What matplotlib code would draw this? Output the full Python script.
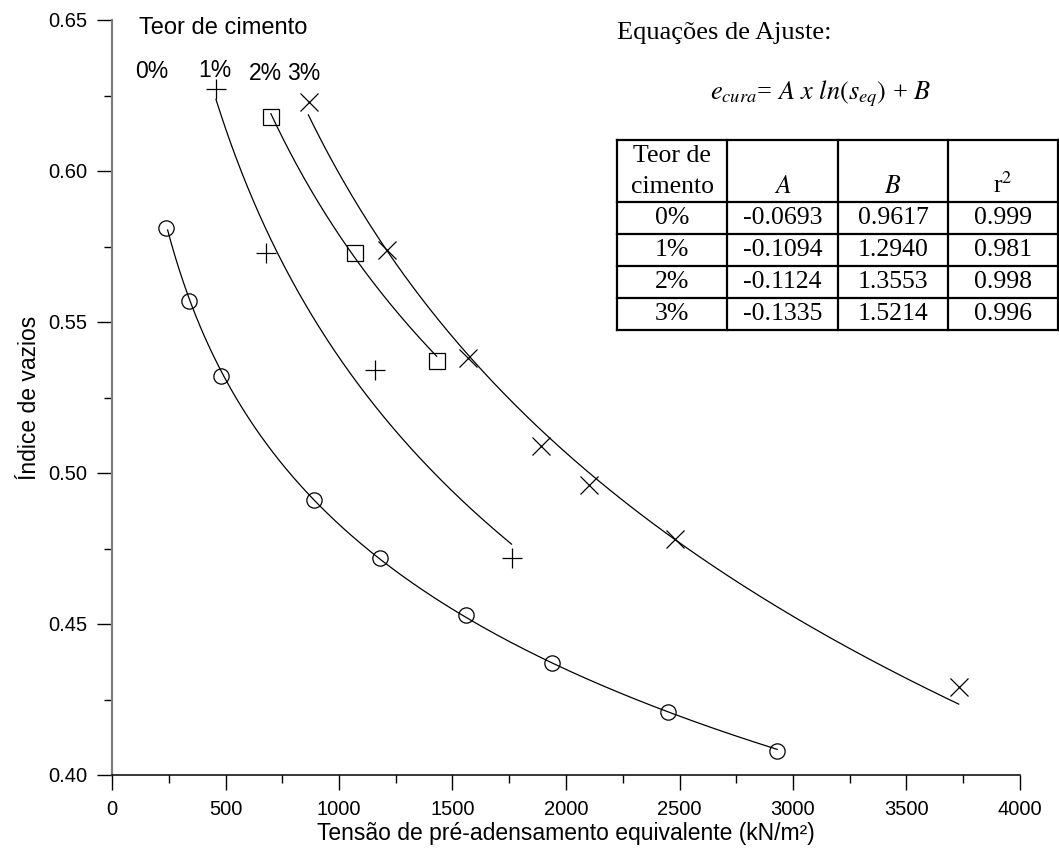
import numpy as np
import matplotlib
matplotlib.use("Agg")
import matplotlib.pyplot as plt
from matplotlib.ticker import MultipleLocator

plt.rcParams['font.family'] = ['Liberation Sans', 'DejaVu Sans']
plt.rcParams['mathtext.fontset'] = 'stix'

# pontos experimentais (tensão equivalente kN/m², índice de vazios)
s_0 = [240, 340, 480, 890, 1180, 1560, 1940, 2450, 2930]
e_0 = [0.581, 0.557, 0.532, 0.491, 0.472, 0.453, 0.437, 0.421, 0.408]
s_1 = [460, 680, 1160, 1760]
e_1 = [0.627, 0.573, 0.534, 0.472]
s_2 = [700, 1070, 1430]
e_2 = [0.618, 0.573, 0.537]
s_3 = [870, 1210, 1570, 1890, 2100, 2480, 3730]
e_3 = [0.623, 0.574, 0.538, 0.509, 0.496, 0.478, 0.429]

# coeficientes de ajuste e = A ln(s) + B
teor = ['0%', '1%', '2%', '3%']
coef_A = [-0.0693, -0.1094, -0.1124, -0.1335]
coef_B = [0.9617, 1.2940, 1.3553, 1.5214]
coef_r2 = [0.999, 0.981, 0.998, 0.996]
# trecho desenhado de cada curva
s_ini = [245, 458, 700, 865]
s_fim = [2930, 1760, 1430, 3730]

fig = plt.figure(figsize=(10.59, 8.5), dpi=100)
ax = fig.add_axes([112/1059, 1 - 775/850, 908/1059, 755/850])

series = [(s_0, e_0, 'o', 11), (s_1, e_1, '+', 15), (s_2, e_2, 's', 11), (s_3, e_3, 'x', 13)]
for i, (s, e, mk, ms) in enumerate(series):
    xs = np.linspace(s_ini[i], s_fim[i], 300)
    ax.plot(xs, coef_A[i] * np.log(xs) + coef_B[i], color='black', lw=0.9)
    ax.plot(s, e, linestyle='none', marker=mk, ms=ms, mfc='none', mec='black', mew=0.9)

ax.set_xlim(0, 4000)
ax.set_ylim(0.40, 0.65)
ax.xaxis.set_major_locator(MultipleLocator(500))
ax.xaxis.set_minor_locator(MultipleLocator(250))
ax.yaxis.set_major_locator(MultipleLocator(0.05))
ax.yaxis.set_minor_locator(MultipleLocator(0.025))
ax.yaxis.set_major_formatter(plt.FormatStrFormatter('%.2f'))
ax.tick_params(which='major', direction='out', length=11, width=1, labelsize=14.5, pad=7)
ax.tick_params(which='minor', direction='out', length=6, width=1)
ax.spines['top'].set_visible(False)
ax.spines['right'].set_visible(False)
ax.spines['left'].set_color('#7f7f7f')
ax.spines['left'].set_linewidth(1.6)
ax.spines['bottom'].set_linewidth(1.1)

ax.set_xlabel('Tensão de pré-adensamento equivalente (kN/m²)', fontsize=16.5, labelpad=2)
ax.set_ylabel('Índice de vazios', fontsize=16.5, labelpad=5)

# rótulos das curvas
ax.text(120, 0.6473, 'Teor de cimento', fontsize=17, va='center', ha='left')
for lab, lx, ly in zip(teor, [175, 453, 674, 844], [0.6331, 0.6333, 0.6323, 0.6323]):
    ax.text(lx, ly, lab, fontsize=16.5, va='center', ha='center')

# equação e tabela de ajuste
serif = ['Liberation Serif', 'DejaVu Serif']
fig.text(617/1059, 1 - 33/850, 'Equações de Ajuste:', family=serif, fontsize=19, va='center', ha='left')
fig.text(821/1059, 1 - 94/850, r'$e_{cura}$= $A\ x\ ln(s_{eq})$ + $B$', family=serif,
         fontsize=19, va='center', ha='center')

tax = fig.add_axes([617/1059, 1 - 330/850, 441/1059, 190/850])
tax.set_xlim(0, 441)
tax.set_ylim(190, 0)
tax.axis('off')
col_x = [0, 110, 221, 331, 441]
row_y = [0, 62, 94, 126, 158, 190]
for x in col_x:
    tax.plot([x, x], [0, 190], color='black', lw=1.6, solid_capstyle='projecting', clip_on=False)
for y in row_y:
    tax.plot([0, 441], [y, y], color='black', lw=1.6, solid_capstyle='projecting', clip_on=False)

cx = [(col_x[j] + col_x[j + 1]) / 2 for j in range(4)]
tfs = 18.5
tax.text(cx[0], 16, 'Teor de', family=serif, fontsize=tfs, ha='center', va='center')
tax.text(cx[0], 47, 'cimento', family=serif, fontsize=tfs, ha='center', va='center')
tax.text(cx[1], 47, '$A$', family=serif, fontsize=tfs, ha='center', va='center')
tax.text(cx[2], 47, '$B$', family=serif, fontsize=tfs, ha='center', va='center')
tax.text(cx[3], 45, 'r$^2$', family=serif, fontsize=tfs, ha='center', va='center')
for i in range(4):
    yc = (row_y[i + 1] + row_y[i + 2]) / 2
    vals = [teor[i], f'{coef_A[i]:.4f}', f'{coef_B[i]:.4f}', f'{coef_r2[i]:.3f}']
    for j, v in enumerate(vals):
        tax.text(cx[j], yc, v, family=serif, fontsize=tfs, ha='center', va='center')

fig.savefig('out.png', dpi=100)
